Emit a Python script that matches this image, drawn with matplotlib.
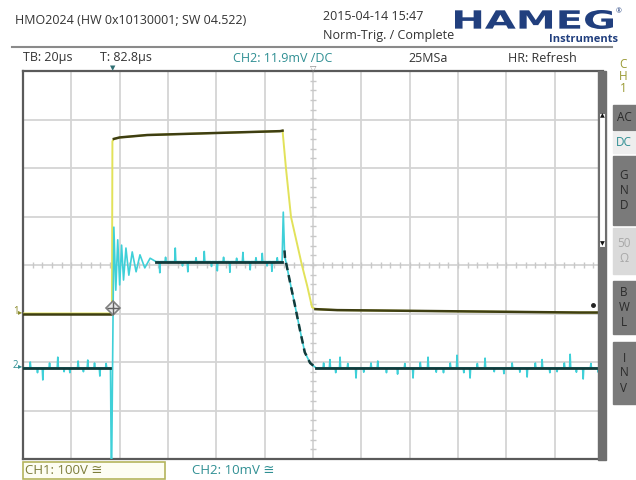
import numpy as np
import matplotlib.pyplot as plt
from matplotlib.patches import Rectangle, PathPatch
from matplotlib.textpath import TextPath
from matplotlib.font_manager import FontProperties
from matplotlib.transforms import Affine2D

plt.rcParams['font.family'] = ['Open Sans', 'DejaVu Sans']

W, H = 636, 480

# traces in screen divisions (12 x 8 graticule)
ch1_t = [-6.0, -4.16, -4.15, -4.12, -4.0, -3.43, -2.07, -0.68, -0.63,
         -0.56, -0.455, -0.23, -0.12, -0.02, 0.05, 0.5, 1.5, 2.5, 3.5, 4.5, 5.5, 6.0]
ch1_v = [-1.0, -1.0, 2.55, 2.60, 2.63, 2.68, 2.72, 2.76, 2.77,
         2.0, 0.99, 0.0, -0.43, -0.87, -0.91, -0.93, -0.94, -0.95, -0.96, -0.97, -0.98, -0.98]

ch2_t = [-6.0, -4.19, -4.17, -4.12, -4.08, -4.04, -4.00, -3.96, -3.92, -3.87, -3.81,
         -3.74, -3.66, -3.58, -3.48, -3.37, -3.25, -0.64, -0.615, -0.59, -0.58,
         -0.48, -0.37, -0.27, -0.17, -0.06, 0.06, 6.0]
ch2_v = [-2.12, -2.12, -4.6, 0.78, -0.52, 0.52, -0.41, 0.41, -0.31, 0.35, -0.21,
         0.27, -0.14, 0.21, -0.06, 0.14, 0.07, 0.07, 1.09, 0.30, 0.16,
         -0.33, -0.85, -1.34, -1.80, -2.02, -2.12, -2.12]

# noise spikes on the CH2 trace: time, peak, level it leaves from
spike_t = [-5.85, -5.70, -5.59, -5.45, -5.28, -5.15, -5.03, -4.86, -4.75, -4.66, -4.52, -4.41, -4.28,
           -3.17, -3.05, -2.85, -2.70, -2.59, -2.42, -2.25, -2.10, -1.98, -1.85, -1.72, -1.58,
           -1.45, -1.30, -1.18, -1.05, -0.95, -0.85, -0.74,
           0.22, 0.35, 0.47, 0.56, 0.72, 0.89, 1.05, 1.20, 1.34, 1.52, 1.75, 1.90, 2.07, 2.22,
           2.38, 2.55, 2.70, 2.84, 2.98, 3.12, 3.25, 3.40, 3.56, 3.75, 3.95, 4.12, 4.28, 4.43,
           4.60, 4.74, 4.90, 5.05, 5.20, 5.32, 5.45, 5.59, 5.75, 5.90]
spike_v = [-2.00, -2.22, -2.37, -2.02, -1.90, -2.20, -2.22, -1.98, -2.20, -1.96, -2.02, -2.29, -2.03,
           -0.16, 0.16, 0.35, -0.02, -0.14, 0.15, 0.28, -0.03, -0.12, 0.16, -0.15, 0.14,
           0.26, -0.10, 0.15, 0.24, -0.02, -0.13, 0.15,
           -2.02, -1.95, -2.22, -1.90, -2.03, -2.33, -2.21, -2.02, -1.98, -2.22, -2.25, -2.03,
           -2.33, -2.01, -1.90, -2.21, -2.22, -2.02, -1.86, -2.22, -2.33, -2.03, -1.92, -2.20,
           -2.24, -2.02, -2.21, -2.31, -2.02, -1.95, -2.22, -2.20, -2.02, -1.84, -2.21, -2.35,
           -2.03, -2.21]
spike_base = [-2.12] * 13 + [0.07] * 19 + [-2.12] * 38

YEL, YEL_DK = '#e2e25a', '#3e3e12'
CYN, CYN_DK = '#3fd0d8', '#123a3a'
TEAL_TXT = '#2f8f93'

fig = plt.figure(figsize=(W / 100, H / 100), dpi=100)
ax = fig.add_axes([23 / W, 21 / H, 580 / W, 388 / H])
ax.set_xlim(-6, 6)
ax.set_ylim(-4, 4)
ax.set_xticks([])
ax.set_yticks([])
for s in ['left', 'top', 'bottom']:
    ax.spines[s].set_color('#5a5a5a')
    ax.spines[s].set_linewidth(1.6)
ax.spines['right'].set_visible(False)

# graticule
for x in range(-5, 6):
    ax.axvline(x, color='#d4d4d4', lw=1.3, zorder=0)
for y in range(-3, 4):
    ax.axhline(y, color='#d4d4d4', lw=1.3, zorder=0)
tk = np.arange(-6, 6.01, 0.2)
ax.plot(tk, np.zeros_like(tk), ls='none', marker='|', ms=5, color='#c8c8c8', mew=1)
tk = np.arange(-4, 4.01, 0.2)
ax.plot(np.zeros_like(tk), tk, ls='none', marker='_', ms=5, color='#c8c8c8', mew=1)

# CH1
ax.plot(ch1_t, ch1_v, color=YEL, lw=1.4, zorder=3)
for a, b in [(0, 2), (3, 9), (14, None)]:
    ax.plot(ch1_t[a:b], ch1_v[a:b], color=YEL_DK, lw=1.8, zorder=4)

# CH2 with spikes merged
pts = list(zip(ch2_t, ch2_v))
for t, v, b in zip(spike_t, spike_v, spike_base):
    pts += [(t - 0.012, b), (t, v), (t + 0.012, b)]
pts.sort()
ax.plot([p[0] for p in pts], [p[1] for p in pts], color=CYN, lw=1.2, zorder=5)
for a, b in [(0, 2), (16, 18), (26, None)]:
    ax.plot(ch2_t[a:b], ch2_v[a:b], color=CYN_DK, lw=2.0, zorder=6)
ax.plot(ch2_t[19:27], ch2_v[19:27], color=CYN_DK, lw=1.8, ls=(0, (3, 2)), zorder=6)

# trigger marker
ax.plot([-4.14], [-0.89], marker='D', ms=7, mfc='#e8e8e8', mec='#808080', mew=1.2, zorder=7)
ax.plot([-4.14], [-0.89], marker='+', ms=9, color='#606060', mew=1, zorder=8)
ax.plot([5.79], [-0.82], marker='o', ms=2.5, color='#222222', zorder=7)


def fx(px):
    return px / W


def fy(py):
    return 1 - py / H


def rect(x0, y0, x1, y1, **kw):
    fig.add_artist(Rectangle((fx(x0), fy(y1)), (x1 - x0) / W, (y1 - y0) / H,
                             transform=fig.transFigure, **kw))


def txt(px, py, s, **kw):
    kw.setdefault('fontsize', 9)
    kw.setdefault('va', 'center')
    fig.text(fx(px), fy(py), s, **kw)


# channel markers at left
txt(13, 311, '1', fontsize=7, color='#8a8a2a')
txt(18, 313, '\u25b8', fontsize=6, color='#8a8a2a')
txt(13, 365, '2', fontsize=7, color=TEAL_TXT)
txt(18, 367, '\u25b8', fontsize=6, color=TEAL_TXT)

# header
txt(15, 20, 'HMO2024 (HW 0x10130001; SW 04.522)', color='#333333')
txt(323, 17, '2015-04-14 15:47', color='#333333')
txt(323, 35, 'Norm-Trig. / Complete', color='#333333')
fig.add_artist(plt.Line2D([fx(12), fx(612)], [fy(47), fy(47)], color='#8a8a8a', lw=1.5,
                          transform=fig.transFigure))

# HAMEG logo
tp = TextPath((0, 0), 'HAMEG', size=20, prop=FontProperties(family='DejaVu Sans', weight='bold'))
ext = tp.get_extents()
tr = (Affine2D().translate(-ext.x0, -ext.y0).scale(158 / ext.width, 19 / ext.height)
      .translate(455, H - 29).scale(1 / W, 1 / H) + fig.transFigure)
fig.add_artist(PathPatch(tp, transform=tr, color='#213f7e', lw=0))
txt(616, 12, '\u00ae', fontsize=5, color='#213f7e')
txt(618, 39, 'Instruments', fontsize=8, weight='bold', color='#213f7e', ha='right')

# status line
txt(23, 58, 'TB: 20\u00b5s', color='#333333')
txt(100, 58, 'T: 82.8\u00b5s', color='#333333')
txt(233, 58, 'CH2: 11.9mV /DC', color=TEAL_TXT)
txt(408, 58, '25MSa', color='#333333')
txt(508, 58, 'HR: Refresh', color='#333333')
fig.text(fx(113), fy(69), '\u25bc', fontsize=5, color='#2f6f73', ha='center', va='center')
fig.text(fx(313), fy(69), '\u25bd', fontsize=6, color='#888888', ha='center', va='center')

# scroll bar on right edge
rect(598, 71, 606, 460, color='#6e6e6e')
rect(599, 113, 605, 247, facecolor='white', edgecolor='#6e6e6e', lw=0.8)
fig.text(fx(602), fy(116), '\u25b2', fontsize=4.5, color='#111111', ha='center', va='center')
fig.text(fx(602), fy(244), '\u25bc', fontsize=4.5, color='#111111', ha='center', va='center')

# side panel
for i, ch in enumerate('CH1'):
    txt(623, 64 + 12 * i, ch, fontsize=8.5, color='#9a9a34', ha='center')
buttons = [(105, 130, '#7a7a7a', ['AC'], '#2a2a2a'),
           (132, 153, '#eeeeee', ['DC'], TEAL_TXT),
           (156, 225, '#7a7a7a', ['G', 'N', 'D'], '#2a2a2a'),
           (228, 274, '#dadada', ['50', '\u03a9'], '#a8a8a8'),
           (281, 334, '#7a7a7a', ['B', 'W', 'L'], '#2a2a2a'),
           (342, 404, '#7a7a7a', ['I', 'N', 'V'], '#2a2a2a')]
for y0, y1, fc, lab, tc in buttons:
    rect(613, y0, 636, y1, color=fc)
    n = len(lab)
    for j, s in enumerate(lab):
        yy = (y0 + y1) / 2 + (j - (n - 1) / 2) * 15
        txt(624, yy, s, fontsize=8.5, color=tc, ha='center')

# bottom channel settings
rect(23, 462, 165, 479, facecolor='#fdfdf2', edgecolor='#b4b45c', lw=1.2)
txt(25, 470, 'CH1: 100V \u2245', fontsize=9.5, color='#7d7d3a')
txt(192, 470, 'CH2: 10mV \u2245', fontsize=9.5, color=TEAL_TXT)

fig.savefig('out.png', dpi=100)
